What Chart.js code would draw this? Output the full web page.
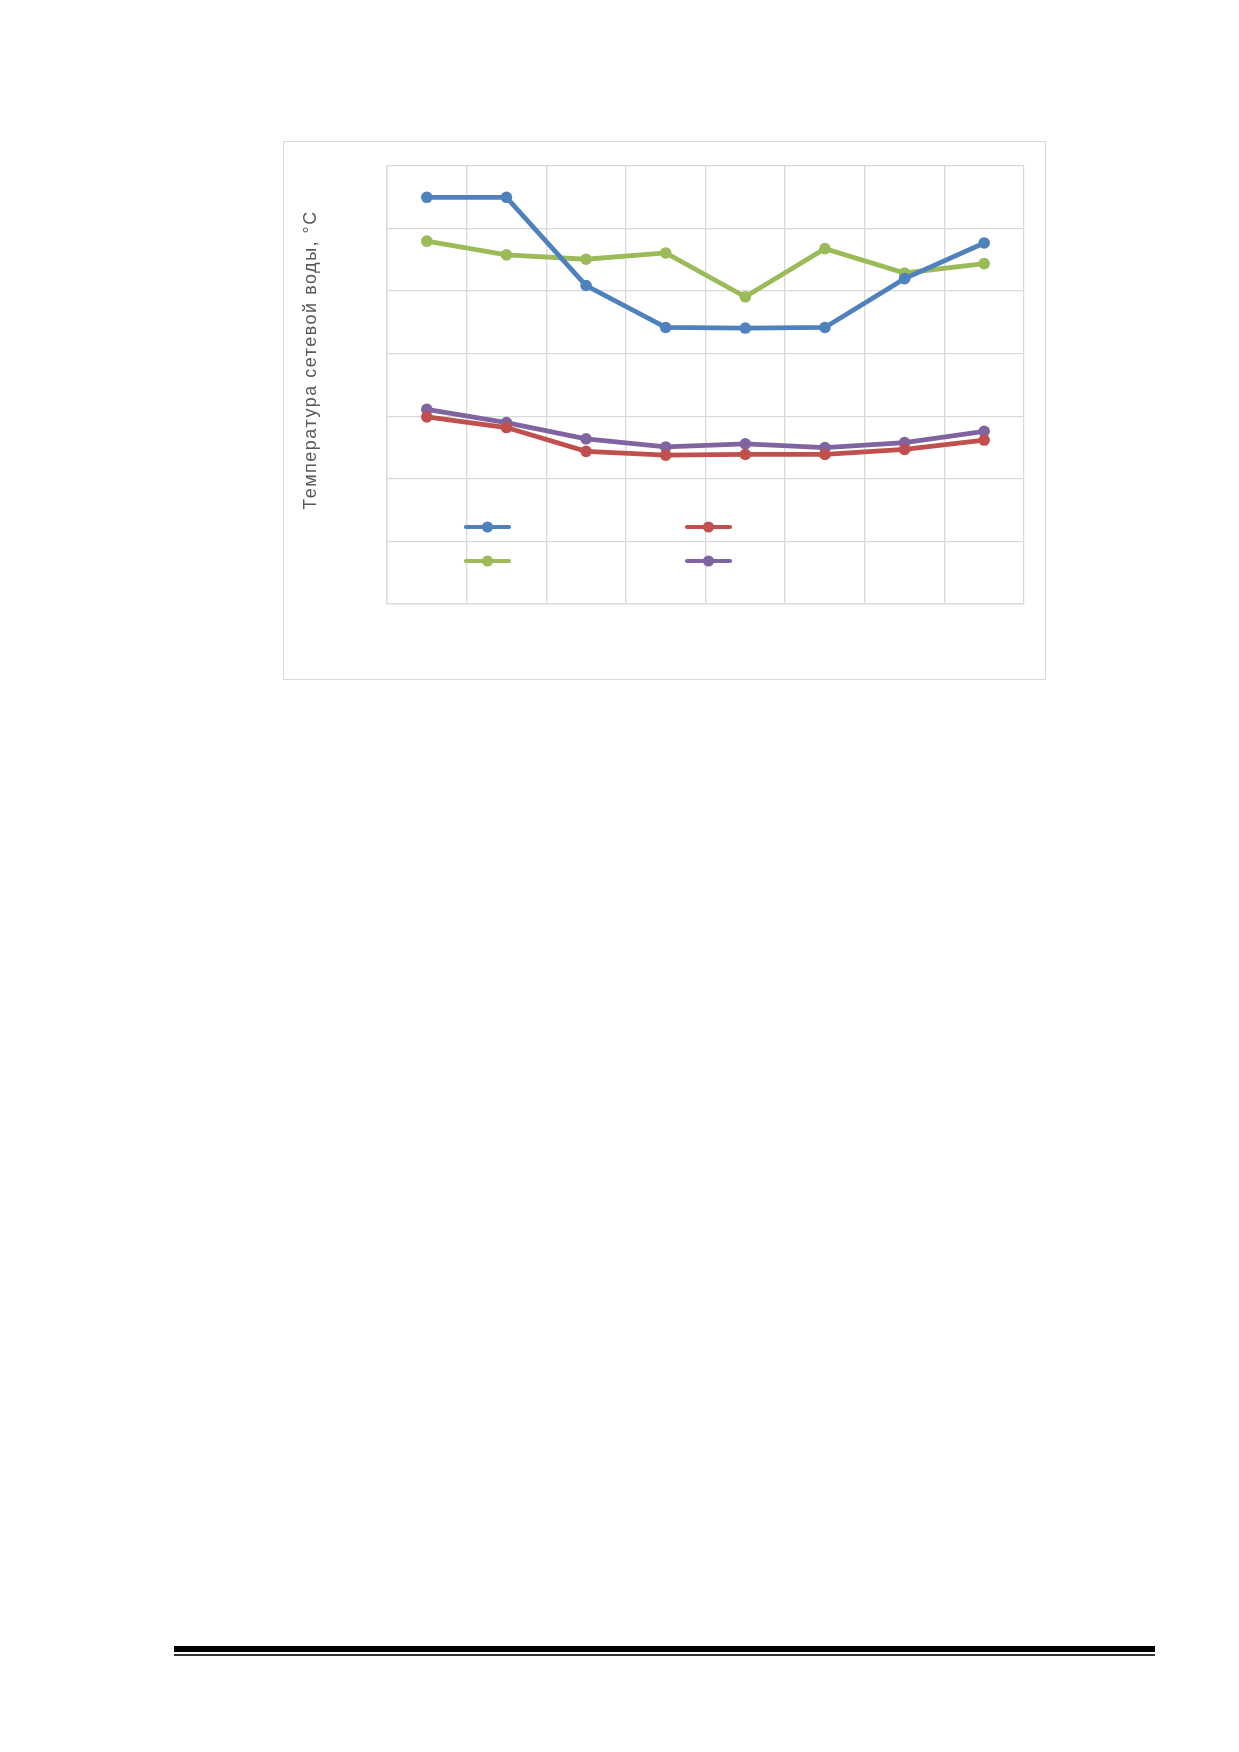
<!DOCTYPE html>
<html>
<head>
<meta charset="utf-8">
<script src="https://cdn.jsdelivr.net/npm/chart.js@4"></script>
<style>
  html, body { margin: 0; padding: 0; background: #fff; }
  body { width: 1239px; height: 1752px; position: relative; overflow: hidden; }
  #frame {
    position: absolute; left: 283px; top: 141px;
    width: 763px; height: 539px;
    box-sizing: border-box; border: 1px solid #d9d9d9;
  }
  #frame canvas { display: block; }
  .rule { position: absolute; left: 174px; width: 981px; }
  #rule1 { top: 1646px; height: 6px; background: #000; }
  #rule2 { top: 1654px; height: 2px; background: #333; }
</style>
</head>
<body>
<div id="frame"><canvas id="chart-temp" width="761" height="537"></canvas></div>
<div class="rule" id="rule1"></div>
<div class="rule" id="rule2"></div>

<script>
  // Data
  const categories = ["1", "2", "3", "4", "5", "6", "7", "8"];
  const seriesNames = ["Серия 1", "Серия 2", "Серия 3", "Серия 4"];
  const blueValues   = [130, 130, 101.8, 88.4, 88.2, 88.4, 104, 115.4];
  const redValues    = [59.8, 56.4, 48.8, 47.6, 47.8, 47.8, 49.4, 52.4];
  const greenValues  = [116, 111.6, 110.2, 112.2, 98.2, 113.6, 105.8, 108.8];
  const purpleValues = [62.2, 58, 52.8, 50.2, 51.2, 50, 51.6, 55.2];
  const yTicks = [0, 20, 40, 60, 80, 100, 120, 140];
  const yTitle = "Температура сетевой воды, °С";

  const colors = {
    blue: "#4f81bd",
    red: "#c0504d",
    green: "#9bbb59",
    purple: "#8064a2"
  };

  const makeSet = (label, data, color) => ({
    label: label,
    data: data,
    borderColor: color,
    backgroundColor: color,
    pointBackgroundColor: color,
    pointBorderColor: color,
    borderWidth: 4.8,
    pointRadius: 5.8,
    pointBorderWidth: 0,
    tension: 0,
    fill: false
  });

  // legend drawn inside plot area, symbols only (no text in the original)
  const innerLegend = {
    id: "innerLegend",
    afterDatasetsDraw(chart) {
      const ctx = chart.ctx;
      const a = chart.chartArea;
      const items = [
        { c: colors.blue,   x: 79,  y: 361 },
        { c: colors.red,    x: 300, y: 361 },
        { c: colors.green,  x: 79,  y: 395 },
        { c: colors.purple, x: 300, y: 395 }
      ];
      ctx.save();
      items.forEach(it => {
        const x0 = a.left + it.x, y0 = a.top + it.y;
        ctx.strokeStyle = it.c;
        ctx.lineWidth = 4.2;
        ctx.lineCap = "round";
        ctx.beginPath();
        ctx.moveTo(x0, y0);
        ctx.lineTo(x0 + 43, y0);
        ctx.stroke();
        ctx.fillStyle = it.c;
        ctx.beginPath();
        ctx.arc(x0 + 21.5, y0, 5.6, 0, Math.PI * 2);
        ctx.fill();
      });
      ctx.restore();
    }
  };

  // rotated y title with letter spacing, like the original
  const yTitlePlugin = {
    id: "yTitlePlugin",
    afterDraw(chart) {
      const ctx = chart.ctx;
      ctx.save();
      ctx.translate(27, 218);
      ctx.rotate(-Math.PI / 2);
      ctx.font = "18px 'Liberation Sans', Arial, sans-serif";
      if ("letterSpacing" in ctx) ctx.letterSpacing = "1.5px";
      ctx.fillStyle = "#595959";
      ctx.textAlign = "center";
      ctx.textBaseline = "middle";
      ctx.fillText(yTitle, 0, 0);
      ctx.restore();
    }
  };

  const ctx = document.getElementById("chart-temp").getContext("2d");
  new Chart(ctx, {
    type: "line",
    data: {
      labels: categories,
      datasets: [
        makeSet(seriesNames[0], blueValues, colors.blue),
        makeSet(seriesNames[1], redValues, colors.red),
        makeSet(seriesNames[2], greenValues, colors.green),
        makeSet(seriesNames[3], purpleValues, colors.purple)
      ]
    },
    options: {
      responsive: false,
      animation: false,
      layout: {
        padding: { left: 103, top: 24, right: 21, bottom: 75 }
      },
      plugins: {
        legend: { display: false },
        tooltip: { enabled: false }
      },
      scales: {
        x: {
          offset: true,
          grid: {
            offset: true,
            color: "#d9d9d9",
            lineWidth: 1.3,
            drawTicks: false
          },
          border: { display: true, color: "#d9d9d9", width: 1.3 },
          ticks: { display: false }
        },
        y: {
          min: yTicks[0],
          max: yTicks[yTicks.length - 1],
          afterBuildTicks: (scale) => {
            scale.ticks = yTicks.map(v => ({ value: v }));
          },
          grid: {
            color: "#d9d9d9",
            lineWidth: 1.3,
            drawTicks: false
          },
          border: { display: true, color: "#d9d9d9", width: 1.3 },
          ticks: { display: false }
        }
      }
    },
    plugins: [innerLegend, yTitlePlugin]
  });
</script>
</body>
</html>
